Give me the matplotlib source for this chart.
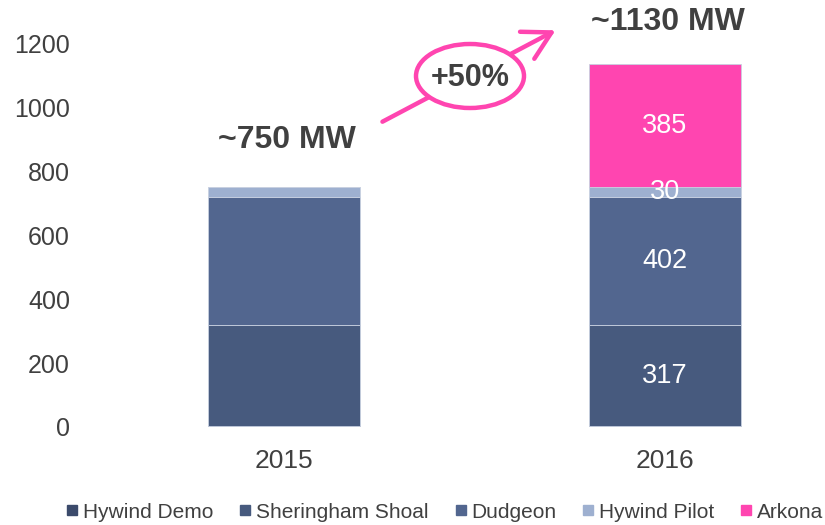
import matplotlib.pyplot as plt
import numpy as np
from matplotlib.patches import Ellipse, FancyArrowPatch

plt.rcParams['font.family'] = ['Liberation Sans', 'DejaVu Sans']

years = ['2015', '2016']
series = ['Hywind Demo', 'Sheringham Shoal', 'Dudgeon', 'Hywind Pilot', 'Arkona']
hywind_demo = [2.3, 2.3]
sheringham = [317, 317]
dudgeon = [402, 402]
hywind_pilot = [30, 30]
arkona = [0, 385]
labels_2016 = [None, '317', '402', '30', '385']
totals = ['~750 MW', '~1130 MW']
growth = '+50%'

colors = ['#3b4a6b', '#475a7e', '#52668f', '#9eb0d0', '#ff45b0']
gray = '#404040'
pink = '#ff45b0'

fig = plt.figure(figsize=(8.25, 5.25), dpi=100)
ax = fig.add_axes([95 / 825, 1 - 427 / 525, 730 / 825, 383 / 525])

x = np.arange(len(years))
data = [hywind_demo, sheringham, dudgeon, hywind_pilot, arkona]
bottom = np.zeros(len(years))
for name, vals, c in zip(series, data, colors):
    vals = np.array(vals, dtype=float)
    ax.bar(x, vals, 0.4, bottom=bottom, color=c, edgecolor='#c8d0e0',
           linewidth=0.6, label=name)
    bottom += vals

# value labels on the 2016 bar (Hywind Demo merged into the bottom one)
b = 0
for i, vals in enumerate(data):
    v = vals[1]
    if labels_2016[i] is not None:
        mid = b + v / 2
        if i == 1:
            mid = (v + b) / 2
        ax.text(x[1], mid, labels_2016[i], ha='center', va='center',
                color='white', fontsize=19.5)
    b += v

ax.set_xlim(-0.496, 1.42)
ax.set_ylim(0, 1200)
ax.set_yticks(range(0, 1201, 200))
ax.set_xticks(x)
ax.set_xticklabels(years)
for s in ax.spines.values():
    s.set_visible(False)
ax.tick_params(length=0, labelcolor=gray)
ax.tick_params(axis='y', pad=18, labelsize=18)
ax.tick_params(axis='x', pad=16, labelsize=19)

# totals
fig.text(287 / 825, 1 - 140 / 525, totals[0], ha='center', va='center',
         fontsize=23, fontweight='bold', color=gray)
fig.text(668 / 825, 1 - 22 / 525, totals[1], ha='center', va='center',
         fontsize=23, fontweight='bold', color=gray)

# growth arrow with ellipse
arr = FancyArrowPatch((380 / 825, 1 - 123 / 525), (558 / 825, 1 - 29 / 525),
                      transform=fig.transFigure, arrowstyle='->,head_length=9,head_width=5',
                      color=pink, linewidth=3.2, mutation_scale=2.2)
fig.add_artist(arr)
ell = Ellipse((470 / 825, 1 - 76 / 525), 108 / 825, 64 / 525,
              transform=fig.transFigure, facecolor='white', edgecolor=pink,
              linewidth=3.2)
fig.add_artist(ell)
fig.text(470 / 825, 1 - 78 / 525, growth, ha='center', va='center',
         fontsize=22, fontweight='bold', color=gray)

handles = [plt.Line2D([], [], marker='s', linestyle='none', markersize=7.5,
                      color=c) for c in colors]
fig.legend(handles, series, loc='center', bbox_to_anchor=(445 / 825, 1 - 512 / 525),
           ncol=5, frameon=False, fontsize=15, handlelength=0.5,
           handletextpad=0.25, columnspacing=1.3, labelcolor=gray,
           borderaxespad=0, borderpad=0)

fig.savefig('out.png', dpi=100)
